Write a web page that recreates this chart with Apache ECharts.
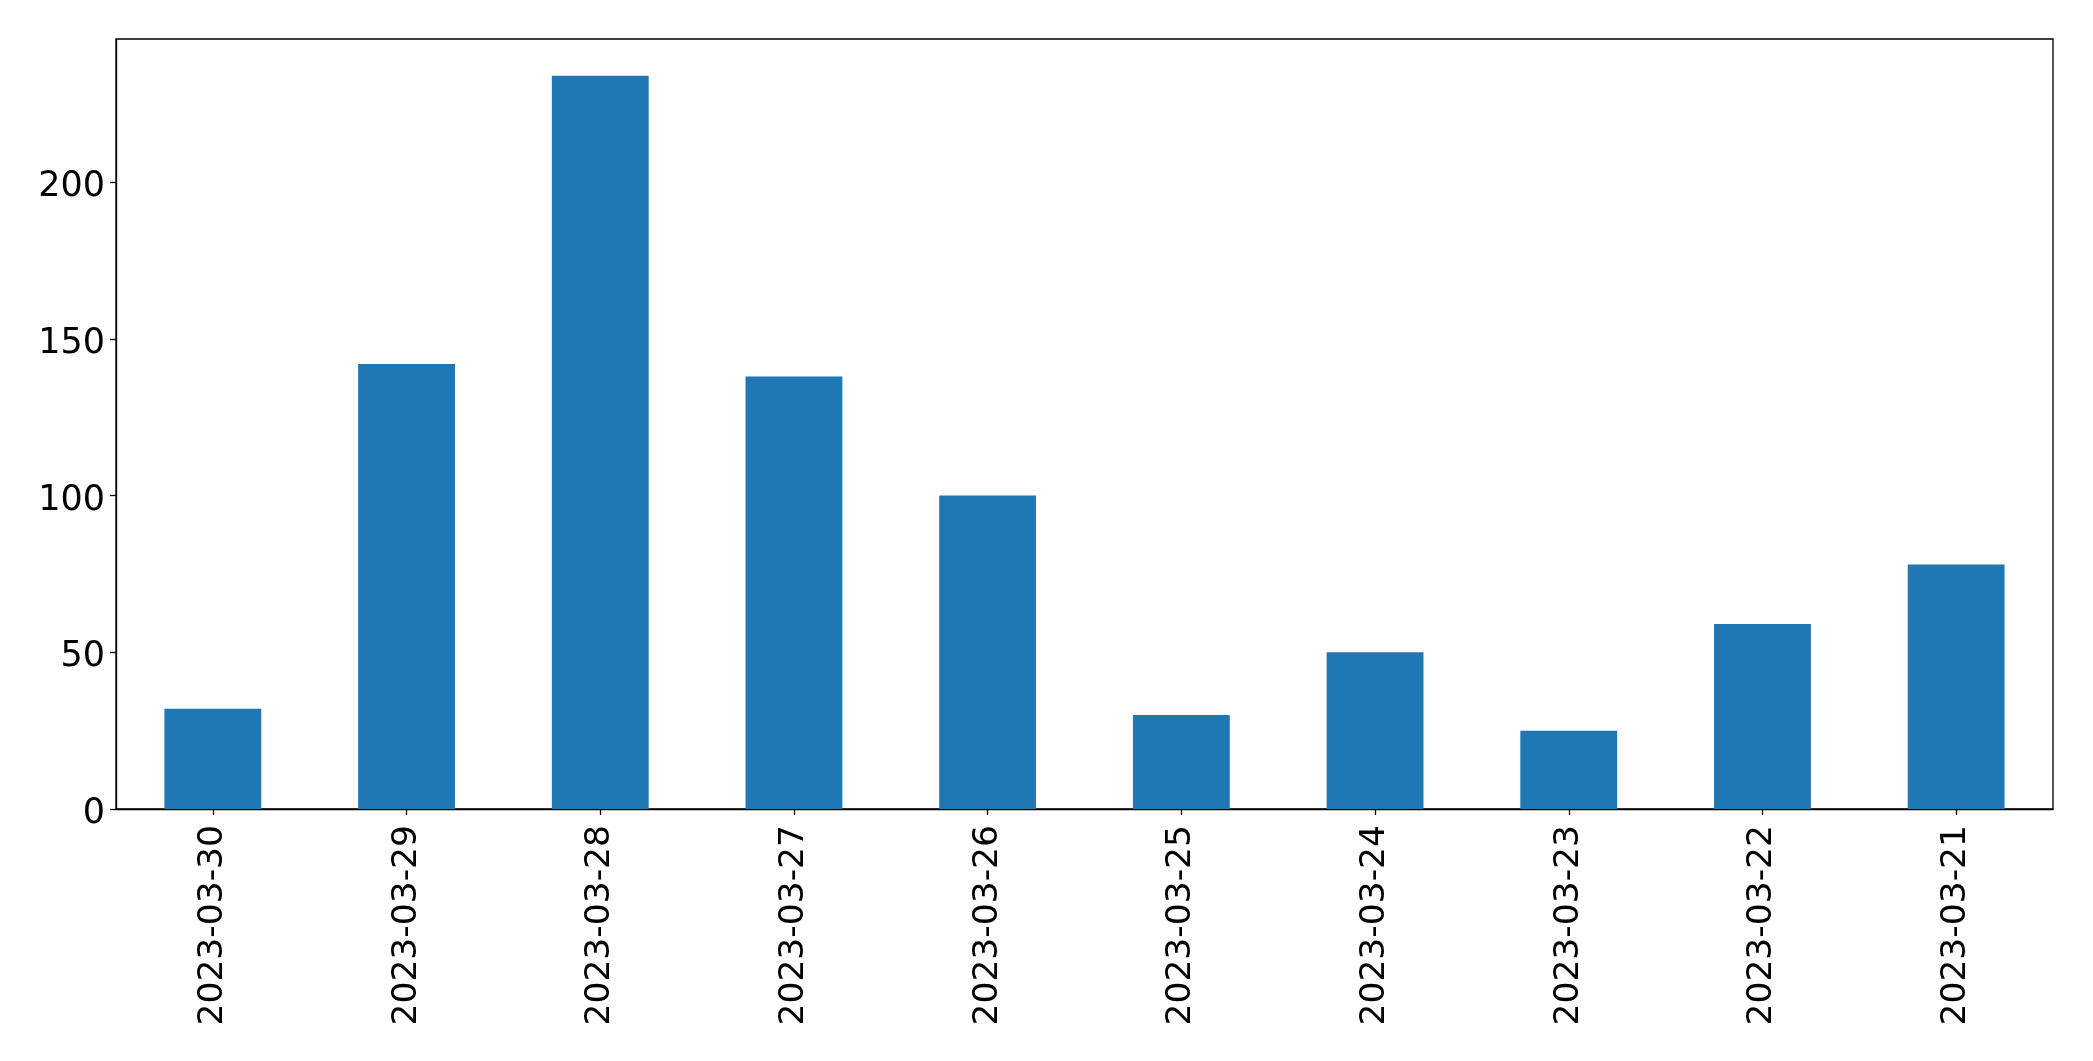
<!DOCTYPE html>
<html>
<head>
<meta charset="utf-8">
<script src="https://cdn.jsdelivr.net/npm/echarts@6/dist/echarts.min.js"></script>
<style>
html,body{margin:0;padding:0;background:#fff;}
#chart{width:2093px;height:1061px;}
</style>
</head>
<body>
<div id="chart"></div>
<script>
const categories = ['2023-03-30','2023-03-29','2023-03-28','2023-03-27','2023-03-26','2023-03-25','2023-03-24','2023-03-23','2023-03-22','2023-03-21'];
const values = [32, 142, 234, 138, 100, 30, 50, 25, 59, 78];
const yTicks = [0, 50, 100, 150, 200];

const chart = echarts.init(document.getElementById('chart'), null, {renderer: 'canvas'});
const font = 'DejaVu Sans';
chart.setOption({
  animation: false,
  backgroundColor: '#ffffff',
  grid: {left: 116, right: 40, top: 39, bottom: 252, show: true, borderColor: '#000', borderWidth: 1.3, backgroundColor: 'transparent'},
  xAxis: {
    type: 'category',
    data: categories,
    axisLine: {lineStyle: {color: '#000', width: 1.3}},
    axisTick: {show: true, alignWithLabel: true, length: 6, lineStyle: {color: '#000', width: 1.3}},
    axisLabel: {rotate: 90, margin: 16, fontFamily: font, fontSize: 34.5, color: '#000', interval: 0},
    splitLine: {show: false}
  },
  yAxis: {
    type: 'value',
    min: 0,
    max: 245.7,
    interval: 50,
    axisLine: {show: true, lineStyle: {color: '#000', width: 1.3}},
    axisTick: {show: true, length: 6, lineStyle: {color: '#000', width: 1.3}},
    axisLabel: {
      margin: 11, color: '#000',
      showMaxLabel: false,
      formatter: function (v) { return yTicks.indexOf(v) >= 0 ? '{a|' + v + '}' : ''; },
      rich: {a: {fontFamily: font, fontSize: 35, color: '#000', padding: [10, 0, 0, 0]}}
    },
    splitLine: {show: false}
  },
  series: [{
    type: 'bar',
    data: values,
    barWidth: '50%',
    itemStyle: {color: '#1f77b4'}
  }]
});
</script>
</body>
</html>
